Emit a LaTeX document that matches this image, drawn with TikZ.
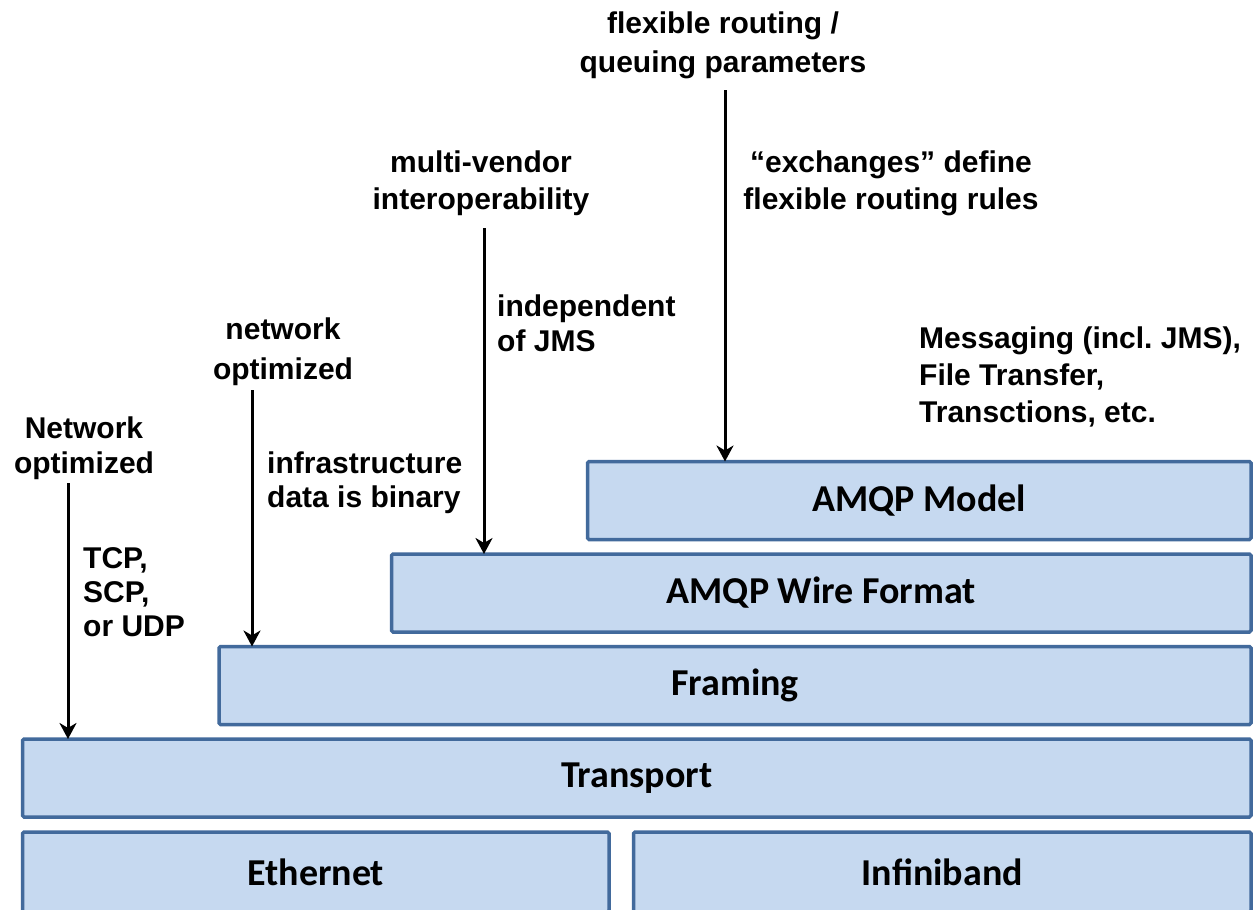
\documentclass[tikz,border=0pt]{standalone}
\usepackage{fontspec}
\usetikzlibrary{arrows.meta}
\newfontfamily\annotfont{Liberation Sans}
\newfontfamily\labfont{Carlito}
\definecolor{boxfill}{RGB}{198,217,240}
\definecolor{boxedge}{RGB}{66,106,156}
\frenchspacing
\begin{document}
\begin{tikzpicture}[x=1pt,y=-1pt,
  layer/.style={draw=boxedge, fill=boxfill, line width=3.5pt, rounded corners=1.5pt,
    rectangle, inner sep=0pt, outer sep=0pt,
    font=\labfont\bfseries\fontsize{38}{40}\selectfont},
  note/.style={inner sep=0pt, font=\annotfont\bfseries\fontsize{30}{37}\selectfont},
  arr/.style={line width=3pt, -{Stealth[length=16pt,width=17pt,inset=5pt]}}]
\useasboundingbox (0,0) rectangle (1254,910);
\begin{scope}
\clip (0,0) rectangle (1254,910);
% layers
\node[layer, minimum width=663.5, minimum height=78] (model) at (919.25,500.5) {AMQP Model};
\node[layer, minimum width=859.5, minimum height=78] (wire) at (821.25,593) {AMQP Wire Format};
\node[layer, minimum width=1032, minimum height=78] (framing) at (735,685.5) {Framing};
\node[layer, minimum width=1228.5, minimum height=78] (transport) at (636.75,778) {Transport};
\node[layer, minimum width=586.5, minimum height=80] (ethernet) at (315.75,872) {Ethernet};
\node[layer, minimum width=617.5, minimum height=80] (infiniband) at (942.25,872) {Infiniband};
\end{scope}
% annotations
\node[note, align=center] (flex) at (723,45) {flexible routing /\\[2pt]queuing parameters};
\node[note, align=center] (multi) at (481,183) {multi-vendor\\interoperability};
\node[note, align=center] (exch) at (891,183) {“exchanges” define\\flexible routing rules};
\node[note, align=left, anchor=west] (indep) at (497,323) {independent\\[-2pt]of JMS};
\node[note, align=center] (net2) at (283,352) {network\\[3pt]optimized};
\node[note, align=left, anchor=west] (msg) at (919,377) {Messaging (incl. JMS),\\File Transfer,\\Transctions, etc.};
\node[note, align=center] (net1) at (84,448.5) {Network\\[-2pt]optimized};
\node[note, align=left, anchor=west] (infra) at (267,483) {infrastructure\\[-3pt]data is binary};
\node[note, align=left, anchor=west] (tcp) at (83,592) {TCP,\\[-3pt]SCP,\\[-3pt]or UDP};
% connectors
\coordinate (s1) at (725,90);
\coordinate (s2) at (484,228);
\coordinate (s3) at (252,390);
\coordinate (s4) at (68,483);
\draw[arr] (s1) -- (s1 |- model.north);
\draw[arr] (s2) -- (s2 |- wire.north);
\draw[arr] (s3) -- (s3 |- framing.north);
\draw[arr] (s4) -- (s4 |- transport.north);
\end{tikzpicture}
\end{document}
